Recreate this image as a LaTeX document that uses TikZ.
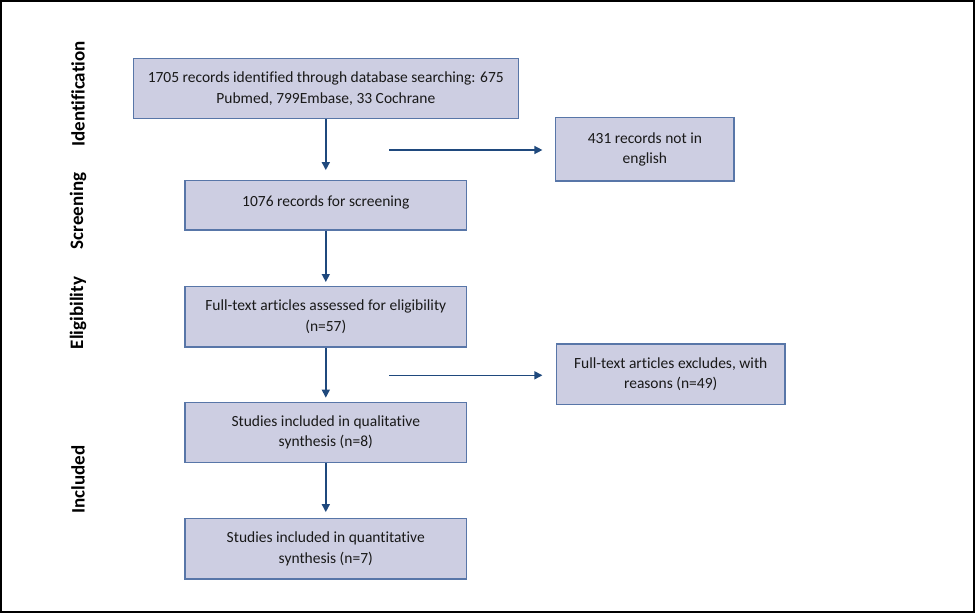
\documentclass[tikz,border=0pt]{standalone}
\usepackage{fontspec}
\setmainfont{Carlito}[Ligatures={NoCommon}]
\usetikzlibrary{arrows.meta}
\definecolor{boxfill}{RGB}{205,206,226}
\definecolor{boxline}{RGB}{88,118,168}
\definecolor{arrcol}{RGB}{31,73,125}
\definecolor{txt}{RGB}{25,25,25}
\tikzset{
  flowbox/.style={draw=boxline, fill=boxfill, line width=1.3pt, inner sep=0pt,
    align=center, text=txt, font=\fontsize{15.5}{20.5}\selectfont},
  phase/.style={rotate=90, font=\fontsize{19}{22}\selectfont\bfseries, text=black, inner sep=0pt},
  arr/.style={draw=arrcol, line width=1.4pt, -{Triangle[length=8pt,width=8pt]}}
}
\begin{document}
\begin{tikzpicture}[x=1pt,y=-1pt]
\useasboundingbox (0,0) rectangle (975,613);
\draw[line width=2pt, black] (1,1) rectangle (974,612);

\node[flowbox, minimum width=385pt, minimum height=60pt] (b1) at (325.8,88.7)
  {1705 records identified through database searching: 675\\Pubmed, 799Embase, 33 Cochrane};
\node[flowbox, minimum width=281.7pt, minimum height=49.3pt, text depth=9pt] (b2) at (325.8,205.4)
  {1076 records for screening};
\node[flowbox, minimum width=281.7pt, minimum height=60.3pt] (b3) at (325.8,316.8)
  {Full-text articles assessed for eligibility\\(n=57)};
\node[flowbox, minimum width=281.7pt, minimum height=60pt] (b4) at (325.8,432.3)
  {Studies included in qualitative\\synthesis (n=8)};
\node[flowbox, minimum width=281.7pt, minimum height=60.7pt] (b5) at (325.8,548.7)
  {Studies included in quantitative\\synthesis (n=7)};
\node[flowbox, minimum width=178.3pt, minimum height=63.7pt] (r1) at (644.9,149.2)
  {431 records not in\\english};
\node[flowbox, minimum width=228.7pt, minimum height=60.3pt] (r2) at (670.7,374.2)
  {Full-text articles excludes, with\\reasons (n=49)};

\node[phase] (pid) at (78,94) {Identification};
\node[phase] (psc) at (78,211) {Screening};
\node[phase] (pel) at (78,313) {Eligibility};
\node[phase] (pin) at (78,479.5) {Included};

\draw[arr, shorten >=10pt] (b1.south) -- (b2.north);
\draw[arr, shorten >=4pt] (b2.south) -- (b3.north);
\draw[arr, shorten >=4pt] (b3.south) -- (b4.north);
\draw[arr, shorten >=5.6pt] (b4.south) -- (b5.north);

\coordinate (h1) at (389,150);
\coordinate (h2) at (389,375.3);
\draw[arr, shorten >=12.7pt] (h1) -- (h1 -| r1.west);
\draw[arr, shorten >=13.3pt] (h2) -- (h2 -| r2.west);
\end{tikzpicture}
\end{document}
